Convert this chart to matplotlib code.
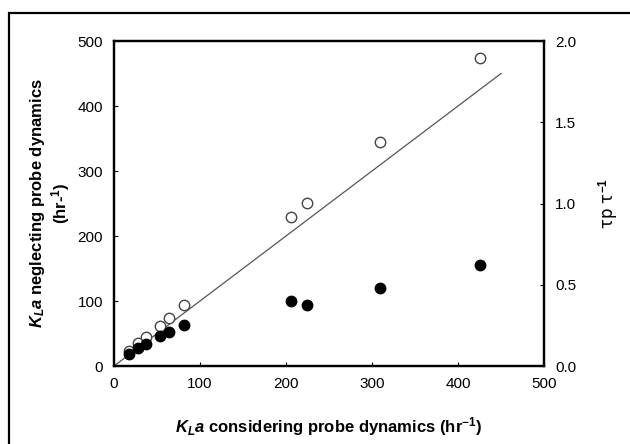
import numpy as np
import matplotlib
matplotlib.use('Agg')
import matplotlib.pyplot as plt
from matplotlib.patches import Rectangle

plt.rcParams['font.family'] = ['Liberation Sans', 'DejaVu Sans']
plt.rcParams['mathtext.fontset'] = 'custom'
plt.rcParams['mathtext.rm'] = 'Liberation Sans:bold'
plt.rcParams['mathtext.it'] = 'Liberation Sans:bold:italic'
plt.rcParams['mathtext.bf'] = 'Liberation Sans:bold'

# KLa considering probe dynamics (x)
kla_probe = [17, 28, 37, 53, 64, 81, 206, 224, 309, 426]
# KLa neglecting probe dynamics (open circles, left axis)
kla_neglect = [23, 35, 44, 62, 74, 94, 230, 251, 344, 474]
# tau_p / tau (filled circles, right axis)
tau_ratio = [0.075, 0.112, 0.133, 0.183, 0.21, 0.253, 0.402, 0.373, 0.479, 0.624]
# parity line
line_x = [0, 450]

fig = plt.figure(figsize=(6.3, 4.44), dpi=100)
fig.patches.append(Rectangle((9 / 630, -0.1), 1.2, 1 - 13 / 444 + 0.1, transform=fig.transFigure,
                             fill=False, edgecolor='black', linewidth=1.6))

ax = fig.add_axes([114 / 630, 1 - 366 / 444, 430 / 630, 325 / 444])
ax2 = ax.twinx()

ax.plot(line_x, line_x, color='#555555', linewidth=0.9, zorder=2)
ax.plot(kla_probe, kla_neglect, 'o', markerfacecolor='white', markeredgecolor='#444444',
        markeredgewidth=1.0, markersize=7.5, zorder=3)
ax2.plot(kla_probe, tau_ratio, 'o', color='black', markersize=7.5, zorder=3)

ax.set_xlim(0, 500)
ax.set_ylim(0, 500)
ax2.set_ylim(0, 2.0)
ax.set_xticks(np.arange(0, 501, 100))
ax.set_yticks(np.arange(0, 501, 100))
ax2.set_yticks(np.arange(0, 2.01, 0.5))
ax2.set_yticklabels(['%.1f' % v for v in np.arange(0, 2.01, 0.5)])

for a in (ax, ax2):
    for s in a.spines.values():
        s.set_linewidth(1.6)
    a.tick_params(direction='in', length=3, width=0.8, labelsize=11, pad=8)

ax.set_xlabel(r'$K_{L}a$ considering probe dynamics (hr$^{-1}$)', fontsize=12,
              fontweight='bold', labelpad=17)
ax.set_ylabel('$K_{L}a$ neglecting probe dynamics\n(hr-$^{1}$)', fontsize=12,
              fontweight='bold', labelpad=4, linespacing=1.1)
ax2.set_ylabel('τp τ$^{-1}$', fontsize=12, labelpad=14, rotation=90,
               family=['DejaVu Sans'])

plt.savefig('out.png', dpi=100)
